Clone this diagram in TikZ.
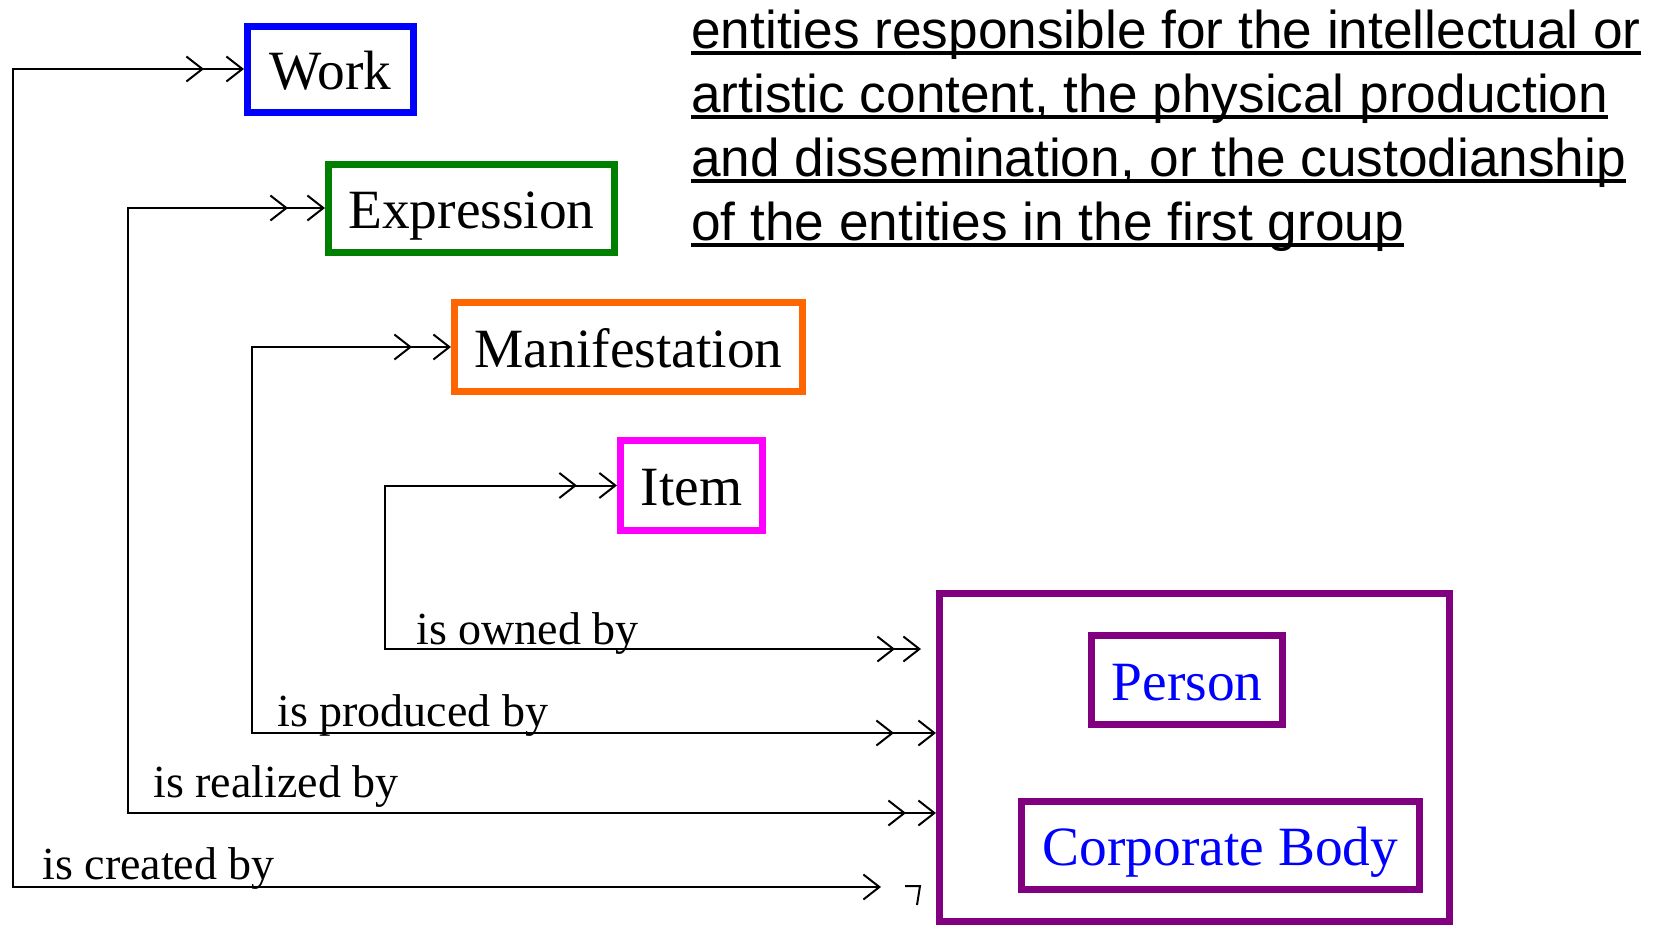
\documentclass[tikz,border=0pt]{standalone}
\usepackage{fontspec}
\setmainfont{Liberation Serif}
\newfontfamily\notefont{Liberation Sans}
\usetikzlibrary{arrows.meta,decorations.markings}

\definecolor{workblue}{RGB}{0,0,255}
\definecolor{exprgreen}{RGB}{0,128,0}
\definecolor{maniforange}{RGB}{255,102,0}
\definecolor{itemmagenta}{RGB}{255,0,255}
\definecolor{agentpurple}{RGB}{128,0,128}
\definecolor{agenttext}{RGB}{0,0,255}

% underlined line of text with a fixed rule below the baseline
\newsavebox\ulbox
\newcommand\ulnote[1]{\sbox\ulbox{#1}\rlap{\rule[-0.137em]{\wd\ulbox}{0.073em}}\usebox\ulbox}

\tikzset{
  myhead/.tip={Straight Barb[length=8pt,width=12.5pt]},
  entity/.style={draw, line width=3.5pt, inner sep=0pt,
    font=\fontsize{27.7}{30}\selectfont, text height=20pt, text depth=0pt},
  agent/.style={entity, draw=agentpurple, text=agenttext},
  link/.style={line width=1pt, draw=black},
  headstart/.style={postaction={decorate,decoration={markings,
    mark=at position #1 with {\arrowreversed{myhead}}}}},
  headend/.style={postaction={decorate,decoration={markings,
    mark=at position -#1 with {\arrow{myhead}}}}},
  rel/.style={anchor=base west, inner sep=0pt, font=\fontsize{23}{26}\selectfont},
  note/.style={anchor=base west, inner sep=0pt, font=\notefont\fontsize{26.6}{32}\selectfont},
}

\begin{document}
\begin{tikzpicture}[x=0.5pt,y=-0.5pt]
\useasboundingbox (0,0) rectangle (1660,926);

% first group of entities
\node[entity, draw=workblue, minimum width=83pt, minimum height=43pt] (work) at (330.5,69) {Work};
\node[entity, draw=exprgreen, minimum width=143pt, minimum height=44pt] (expr) at (471.5,208) {Expression};
\node[entity, draw=maniforange, minimum width=174pt, minimum height=44.5pt] (manif) at (628.5,347) {Manifestation};
\node[entity, draw=itemmagenta, minimum width=71pt, minimum height=45pt] (item) at (691.5,485.5) {Item};

% second group of entities
\node[draw=agentpurple, line width=3.5pt, minimum width=255pt, minimum height=164pt, inner sep=0pt] (group) at (1194.5,757.5) {};
\node[agent, minimum width=95.5pt, minimum height=44.5pt] (person) at (1187,680) {Person};
\node[agent, minimum width=199pt, minimum height=44pt] (corp) at (1220.5,845.5) {Corporate Body};

% corners and free ends of the relationship lines
\coordinate (cw) at (13,887);
\coordinate (ce) at (881,887);
\coordinate (cx) at (128,813);
\coordinate (cm) at (252,733);
\coordinate (ci) at (385,649);
\coordinate (oe) at (921,649);

% relationships
\draw[link, myhead-myhead, headstart=20pt] (work.west) -| (cw) -- (ce);
\draw[link] (905,886) -- (920,886) -- (917,905);
\draw[link, myhead-myhead, headstart=18.5pt, headend=15pt] (expr.west) -| (cx) -- (group.west |- cx);
\draw[link, myhead-myhead, headstart=19.5pt, headend=21pt] (manif.west) -| (cm) -- (group.west |- cm);
\draw[link, myhead-myhead, headstart=20pt, headend=13pt] (item.west) -| (ci) -- (oe);

% relationship labels
\node[rel] (lown) at (416,644) {is owned by};
\node[rel] (lprod) at (277,726) {is produced by};
\node[rel] (lreal) at (153,797) {is realized by};
\node[rel] (lcre) at (42,879) {is created by};

% note on the second group
\node[note] (n1) at (691,48) {\ulnote{entities responsible for the intellectual or}};
\node[note] (n2) at (691,112) {\ulnote{artistic content, the physical production}};
\node[note] (n3) at (691,176) {\ulnote{and dissemination, or the custodianship}};
\node[note] (n4) at (691,240) {\ulnote{of the entities in the first group}};
\end{tikzpicture}
\end{document}
